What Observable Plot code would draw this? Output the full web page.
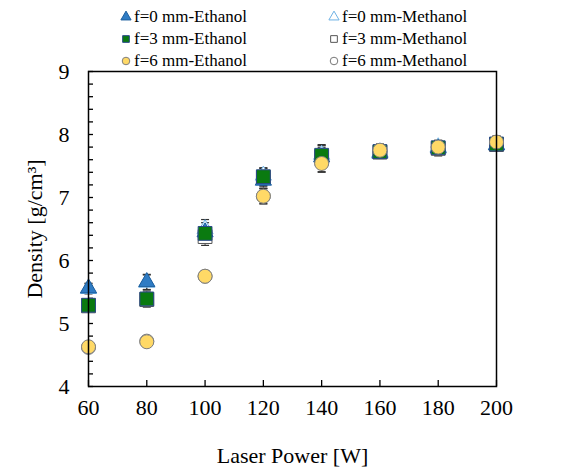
<!DOCTYPE html>
<html>
<head>
<meta charset="utf-8">
<script src="https://cdn.jsdelivr.net/npm/d3@7"></script>
<script src="https://cdn.jsdelivr.net/npm/@observablehq/plot@0.6"></script>
<style>
  html, body { margin: 0; padding: 0; background: #fff; }
  #wrap { position: relative; width: 568px; height: 473px; font-family: "Liberation Serif", "DejaVu Serif", serif; }
  #legend { position: absolute; left: 0; top: 0; width: 568px; height: 70px; font-size: 17px; color: #000; font-family: "Liberation Serif", serif; }
  .item { position: absolute; display: flex; align-items: center; white-space: nowrap; line-height: 1; }
  .item svg { margin-right: 2px; }
  #chart svg text { font-family: "Liberation Serif", serif; font-variant: normal; }
</style>
</head>
<body>
<div id="wrap"><div id="legend"></div><div id="chart"></div></div>
<script>
// ---- data ----
const powers = [60, 80, 100, 120, 140, 160, 180, 200];
const ethF0 = [5.56, 5.66, 6.45, 7.27, 7.64, 7.70, 7.78, 7.83];
const ethF3 = [5.29, 5.39, 6.43, 7.33, 7.67, 7.73, 7.79, 7.85];
const ethF6 = [4.63, 4.71, 5.75, 7.02, 7.54, 7.75, 7.80, 7.88];
const metF0 = [5.55, 5.65, 6.50, 7.35, 7.68, 7.72, 7.80, 7.84];
const metF3 = [5.28, 5.38, 6.38, 7.32, 7.65, 7.72, 7.78, 7.84];
const metF6 = [4.62, 4.72, 5.75, 7.02, 7.55, 7.73, 7.80, 7.87];
const ethF0Err = [0.08, 0.12, 0.15, 0.12, 0.15, 0.08, 0.08, 0.08];
const ethF3Err = [0.07, 0.10, 0.12, 0.14, 0.17, 0.10, 0.12, 0.10];
const ethF6Err = [0.06, 0.07, 0.08, 0.12, 0.14, 0.10, 0.10, 0.10];
const metF0Err = [0.08, 0.12, 0.15, 0.12, 0.15, 0.08, 0.08, 0.08];
const metF3Err = [0.07, 0.12, 0.14, 0.14, 0.17, 0.10, 0.12, 0.10];
const metF6Err = [0.06, 0.07, 0.08, 0.12, 0.14, 0.10, 0.10, 0.10];
const xTicks = [60, 80, 100, 120, 140, 160, 180, 200];
const yTicks = [4, 5, 6, 7, 8, 9];
const yMinor = d3.range(4, 9.0001, 0.2).map(v => +v.toFixed(1));

const seriesDefs = [
  {name: "f=0 mm-Methanol", y: metF0, err: metF0Err, symbol: "triangle", fill: "#ffffff", stroke: "#6db1e4", r: 6},
  {name: "f=3 mm-Methanol", y: metF3, err: metF3Err, symbol: "square", fill: "#ffffff", stroke: "#555555", r: 7.8},
  {name: "f=6 mm-Methanol", y: metF6, err: metF6Err, symbol: "circle", fill: "#ffffff", stroke: "#777777", r: 7},
  {name: "f=0 mm-Ethanol", y: ethF0, err: ethF0Err, symbol: "triangle", fill: "#2f7cc4", stroke: "#1d5f9e", r: 6},
  {name: "f=3 mm-Ethanol", y: ethF3, err: ethF3Err, symbol: "square", fill: "#0a7a10", stroke: "#2a4a8a", r: 7.8},
  {name: "f=6 mm-Ethanol", y: ethF6, err: ethF6Err, symbol: "circle", fill: "#ffd966", stroke: "#7f7f7f", r: 7}
];

const capSymbol = {
  draw(ctx, size) { ctx.moveTo(-4, 0); ctx.lineTo(4, 0); }
};

const marks = [];
for (const s of seriesDefs) {
  const rows = powers.map((p, i) => ({x: p, y: s.y[i], lo: s.y[i] - s.err[i], hi: s.y[i] + s.err[i]}));
  marks.push(Plot.ruleX(rows, {x: "x", y1: "lo", y2: "hi", stroke: "#333", strokeWidth: 1}));
  marks.push(Plot.dot(rows, {x: "x", y: "lo", symbol: capSymbol, stroke: "#333", strokeWidth: 1.2}));
  marks.push(Plot.dot(rows, {x: "x", y: "hi", symbol: capSymbol, stroke: "#333", strokeWidth: 1.2}));
}
for (const s of seriesDefs) {
  const rows = powers.map((p, i) => ({x: p, y: s.y[i]}));
  marks.push(Plot.dot(rows, {x: "x", y: "y", symbol: s.symbol, r: s.r, fill: s.fill, stroke: s.stroke, strokeWidth: 1}));
}

const W = 568, H = 473, mL = 88, mR = 72, mT = 71, mB = 87;
const plotH = H - mT - mB, plotW = W - mL - mR;

const chart = Plot.plot({
  width: W, height: H,
  marginLeft: mL, marginRight: mR, marginTop: mT, marginBottom: mB,
  style: {fontFamily: "'Liberation Serif', serif", color: "#000", background: "transparent", overflow: "visible"},
  x: {domain: [60, 200]},
  y: {domain: [4, 9]},
  marks: [
    Plot.tickX(xTicks, {x: d => d, insetTop: plotH - 6, stroke: "#000", strokeWidth: 1.3}),
    Plot.tickY(yMinor, {y: d => d, insetRight: plotW - 5, stroke: "#000", strokeWidth: 1.3}),
    Plot.axisX({ticks: xTicks, tickFormat: d => String(d), tickSize: 0, tickPadding: 13, fontSize: 22, fontVariant: "normal", label: "Laser Power [W]", labelAnchor: "center", labelArrow: "none", labelOffset: 76}),
    Plot.axisY({ticks: yTicks, tickFormat: d => String(d), tickSize: 0, tickPadding: 19, fontSize: 22, fontVariant: "normal", label: "Density [g/cm³]", labelAnchor: "center", labelArrow: "none", labelOffset: 62}),
    ...marks,
    Plot.frame({stroke: "#000", strokeWidth: 1.5})
  ]
});
document.getElementById("chart").appendChild(chart);

// ---- legend ----
const legendOrder = [
  ["f=0 mm-Ethanol", 0, 0], ["f=0 mm-Methanol", 1, 0],
  ["f=3 mm-Ethanol", 0, 1], ["f=3 mm-Methanol", 1, 1],
  ["f=6 mm-Ethanol", 0, 2], ["f=6 mm-Methanol", 1, 2]
];
const legendEl = document.getElementById("legend");
for (const [name, col, row] of legendOrder) {
  const s = seriesDefs.find(d => d.name === name);
  const div = document.createElement("div");
  div.className = "item";
  div.style.left = (col === 0 ? 120 : 328) + "px";
  div.style.top = (8 + row * 22) + "px";
  const sym = d3.symbol(s.symbol === "triangle" ? d3.symbolTriangle : s.symbol === "square" ? d3.symbolSquare : d3.symbolCircle, 45)();
  div.innerHTML = `<svg width="12" height="12" viewBox="-6 -6 12 12"><path d="${sym}" fill="${s.fill}" stroke="${s.stroke}" stroke-width="1"/></svg><span>${name}</span>`;
  legendEl.appendChild(div);
}
</script>
</body>
</html>
